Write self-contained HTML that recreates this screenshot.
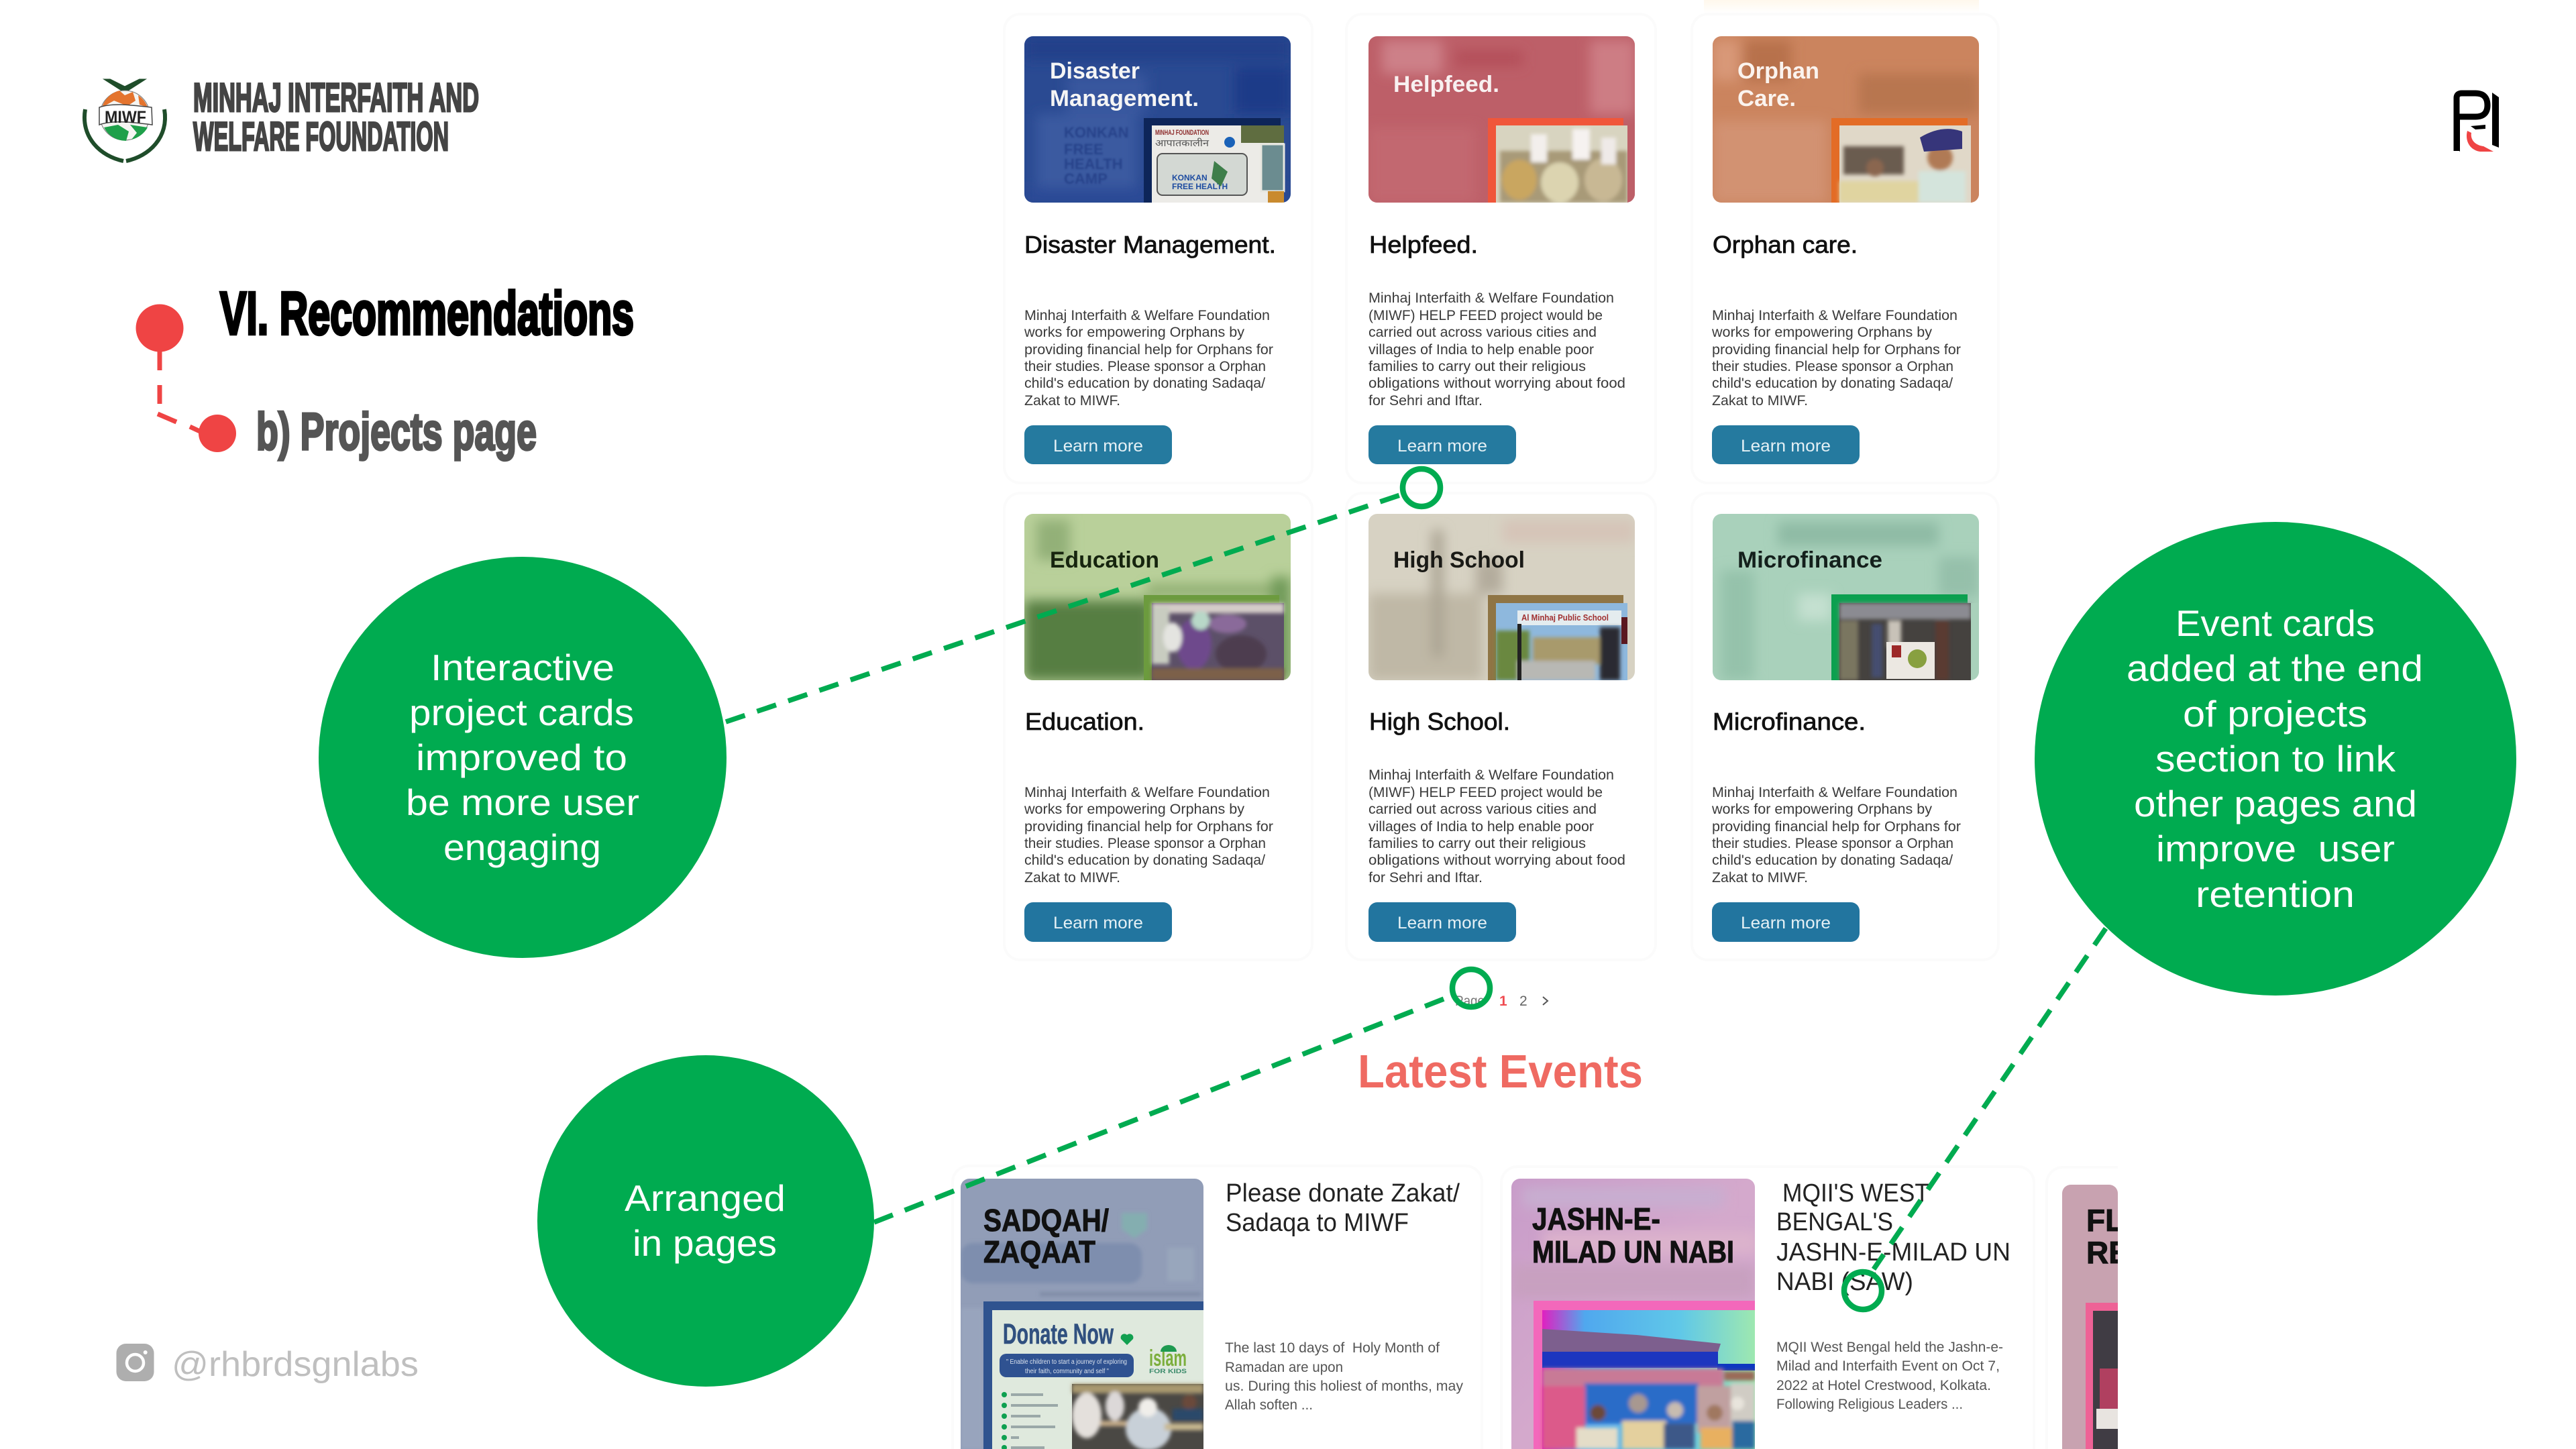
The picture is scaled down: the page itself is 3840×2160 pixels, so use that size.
<!DOCTYPE html>
<html lang="en">
<head>
<meta charset="utf-8">
<title>VI. Recommendations - b) Projects page</title>
<style>
html,body{margin:0;padding:0;background:#fff;width:3840px;height:2160px;overflow:hidden}
svg{display:block;position:absolute;left:0;top:0}
text{font-family:"Liberation Sans",sans-serif}
.h{font-weight:bold;fill:#444;font-size:60px;stroke:#444;stroke-width:3px}
.tt{font-size:36px;fill:#111;font-weight:normal;stroke:#111;stroke-width:.8px}
.b{font-size:21.5px;fill:#3a3a3a}
.lm{font-size:25px;fill:#e4f0f5}
.im{font-size:34px;font-weight:bold}
.w{font-size:55px;fill:#fff;text-anchor:start}
.et{font-size:38px;fill:#222}
.eb{font-size:21px;fill:#555}
.ei{font-size:46px;font-weight:bold;fill:#111;stroke:#111;stroke-width:1px}
.card{fill:#fff;stroke:#fbfbfb;stroke-width:4}
.dash{stroke:#00ab50;stroke-width:7.5;fill:none;stroke-dasharray:30 19}
.ring{fill:none;stroke:#00ab50;stroke-width:8.5}
</style>
</head>
<body>
<svg width="3840" height="2160" viewBox="0 0 3840 2160" xmlns="http://www.w3.org/2000/svg">
<defs>
<filter id="bl" x="-10%" y="-10%" width="120%" height="120%"><feGaussianBlur stdDeviation="9"/></filter>
<filter id="bs" x="-10%" y="-10%" width="120%" height="120%"><feGaussianBlur stdDeviation="3"/></filter>
<filter id="bt" x="-5%" y="-5%" width="110%" height="110%"><feGaussianBlur stdDeviation="1.200"/></filter>
<clipPath id="c11"><rect x="1527" y="54" width="397" height="248" rx="13"/></clipPath>
<clipPath id="c12"><rect x="2040" y="54" width="397" height="248" rx="13"/></clipPath>
<clipPath id="c13"><rect x="2553" y="54" width="397" height="248" rx="13"/></clipPath>
<clipPath id="c21"><rect x="1527" y="766" width="397" height="248" rx="13"/></clipPath>
<clipPath id="c22"><rect x="2040" y="766" width="397" height="248" rx="13"/></clipPath>
<clipPath id="c23"><rect x="2553" y="766" width="397" height="248" rx="13"/></clipPath>
<clipPath id="e1"><rect x="1432" y="1757" width="362" height="420" rx="13"/></clipPath>
<clipPath id="e2"><rect x="2253" y="1757" width="363" height="420" rx="13"/></clipPath>
<clipPath id="e3"><rect x="3074" y="1766" width="83" height="420" rx="13"/></clipPath>
<linearGradient id="topg" x1="0" y1="0" x2="0" y2="1"><stop offset="0" stop-color="#fff8ec"/><stop offset="1" stop-color="#fff"/></linearGradient>
<linearGradient id="pk" x1="0" y1="0" x2="1" y2="1"><stop offset="0" stop-color="#c89cc9"/><stop offset=".5" stop-color="#d4a9cc"/><stop offset="1" stop-color="#cfa6cf"/></linearGradient>
<linearGradient id="sky" x1="0" y1="0" x2="1" y2="0"><stop offset="0" stop-color="#e020c0"/><stop offset=".2" stop-color="#50a8ee"/><stop offset=".65" stop-color="#60c8e8"/><stop offset="1" stop-color="#9ee8b0"/></linearGradient>
</defs>

<rect width="3840" height="2160" fill="#fff"/>
<rect x="2540" y="0" width="410" height="20" fill="url(#topg)"/>

<!-- Header -->
<g>
<path d="M158 119 L186 137 L214 119 L208 119 L186 130 L164 119Z" fill="#1f4d2a" stroke="#1f4d2a" stroke-width="3"/>
<circle cx="186" cy="172" r="37" fill="#f5f5f2" stroke="#777" stroke-width="1"/>
<path d="M152 160 A37 37 0 0 1 178 135 L186 142 L198 137 L202 150 L190 158 L170 150Z" fill="#e4742e"/>
<path d="M206 142 A37 37 0 0 1 220 160 L208 156Z" fill="#e4742e"/>
<path d="M155 190 L176 186 L192 196 L188 210 A37 37 0 0 1 155 190Z" fill="#1fa04a"/>
<path d="M194 186 L220 190 A37 37 0 0 1 196 208 L204 198Z" fill="#1fa04a"/>
<path d="M148 160 C170 152 205 158 226 160 L227 186 C205 183 170 178 148 186Z" fill="#fff" stroke="#444" stroke-width="1.5"/>
<text x="156" y="183" font-size="25" font-weight="bold" fill="#222" textLength="62" lengthAdjust="spacingAndGlyphs">MIWF</text>
<path d="M127 163 C120 205 150 233 184 240" fill="none" stroke="#1f4d2a" stroke-width="6"/>
<path d="M245 163 C252 205 222 233 188 240" fill="none" stroke="#1f4d2a" stroke-width="6"/>
<text class="h" x="288" y="166" textLength="426" lengthAdjust="spacingAndGlyphs">MINHAJ INTERFAITH AND</text>
<text class="h" x="288" y="224" textLength="381" lengthAdjust="spacingAndGlyphs">WELFARE FOUNDATION</text>
</g>

<!-- Logo top right -->
<g>
<path d="M3662 225 L3662 146 Q3662 139 3670 139 L3690 139 Q3708 139 3708 157 Q3708 174 3690 174 L3664 174" fill="none" stroke="#000" stroke-width="9"/>
<path d="M3658 176 L3667 176 L3667 226 L3658 218Z" fill="#000"/>
<path d="M3715 138 L3725 145 L3725 220 L3715 216Z" fill="#000"/>
<path d="M3683 188 L3705 186 L3705 192 L3690 193Z" fill="#000"/>
<path d="M3678 195 L3684 198 C3682 210 3692 217 3702 218 L3717 226 L3697 226 C3682 224 3674 210 3678 195Z" fill="#ef4444"/>
</g>

<!-- Section heads -->
<circle cx="238" cy="489" r="35.5" fill="#ef4444"/>
<circle cx="324" cy="646" r="28" fill="#ef4444"/>
<g stroke="#ef4444" stroke-width="7" fill="none">
<path d="M238 524V552"/><path d="M238 574V602"/>
<path d="M235 617L263 629"/><path d="M283 636L300 644"/>
</g>
<text x="328" y="498" font-size="90" font-weight="bold" fill="#000" stroke="#000" stroke-width="4.500" textLength="617" lengthAdjust="spacingAndGlyphs">VI. Recommendations</text>
<text x="382" y="670" font-size="78" font-weight="bold" fill="#555" stroke="#555" stroke-width="3.500" textLength="418" lengthAdjust="spacingAndGlyphs">b) Projects page</text>

<!-- Project cards bg -->
<rect class="card" x="1497" y="21" width="459" height="699" rx="24"/>
<rect class="card" x="2007" y="21" width="461" height="699" rx="24"/>
<rect class="card" x="2522" y="21" width="457" height="699" rx="24"/>
<rect class="card" x="1497" y="735" width="459" height="696" rx="24"/>
<rect class="card" x="2007" y="735" width="461" height="696" rx="24"/>
<rect class="card" x="2522" y="735" width="457" height="696" rx="24"/>

<!-- Image 1,1 Disaster -->
<g clip-path="url(#c11)">
<rect x="1527" y="54" width="397" height="248" fill="#2a4a92"/>
<g filter="url(#bl)">
<rect x="1527" y="54" width="397" height="36" fill="#233f8a"/>
<rect x="1545" y="170" width="150" height="120" fill="#3a5aa0"/>
<rect x="1590" y="110" width="120" height="60" fill="#38569e"/>
<rect x="1840" y="100" width="84" height="70" fill="#1f3b88"/>
<rect x="1527" y="280" width="397" height="22" fill="#2c4a96"/>
</g>
<g filter="url(#bt)">
<text x="1586" y="205" font-size="22" font-weight="bold" fill="#27428a">KONKAN</text>
<text x="1586" y="230" font-size="22" font-weight="bold" fill="#27428a">FREE</text>
<text x="1586" y="252" font-size="22" font-weight="bold" fill="#27428a">HEALTH</text>
<text x="1586" y="274" font-size="22" font-weight="bold" fill="#27428a">CAMP</text>
</g>
<rect x="1705" y="176" width="204" height="126" fill="#0d2559"/>
<rect x="1717" y="187" width="197" height="115" fill="#ecebe7"/>
<rect x="1850" y="187" width="64" height="26" fill="#5f6d40" />
<rect x="1725" y="229" width="134" height="62" rx="8" fill="#d3d8d3" stroke="#555" stroke-width="2"/>
<rect x="1880" y="215" width="34" height="70" fill="#6b8c90" stroke="#e6e6df" stroke-width="3"/>
<rect x="1890" y="285" width="24" height="17" fill="#c98a2e"/>
<text x="1722" y="201" font-size="11" font-weight="bold" fill="#8c2a2a" textLength="80" lengthAdjust="spacingAndGlyphs">MINHAJ FOUNDATION</text>
<text x="1722" y="218" font-size="14" fill="#555" textLength="80" lengthAdjust="spacingAndGlyphs">आपातकालीन</text>
<text x="1747" y="269" font-size="12" font-weight="bold" fill="#1e4ca0">KONKAN</text>
<text x="1747" y="282" font-size="12" font-weight="bold" fill="#1e4ca0">FREE HEALTH</text>
<circle cx="1833" cy="212" r="8" fill="#1a62b8"/>
<path d="M1810 240l20 16-10 22-14-12z" fill="#3e7e4a"/>
</g>
<text class="im" x="1565" y="117" fill="#f5f5f5" textLength="134" lengthAdjust="spacingAndGlyphs">Disaster</text>
<text class="im" x="1565" y="158" fill="#f5f5f5" textLength="222" lengthAdjust="spacingAndGlyphs">Management.</text>

<!-- Image 1,2 Helpfeed -->
<g clip-path="url(#c12)">
<rect x="2040" y="54" width="397" height="248" fill="#bd5f68"/>
<g filter="url(#bl)">
<rect x="2060" y="60" width="90" height="50" fill="#cd8088"/>
<rect x="2370" y="60" width="67" height="110" fill="#cd7d84"/>
<rect x="2040" y="190" width="160" height="112" fill="#c26870"/>
<rect x="2170" y="75" width="100" height="24" fill="#b4505a"/>
</g>
<rect x="2218" y="176" width="202" height="126" fill="#f0563a"/>
<rect x="2230" y="187" width="196" height="115" fill="#d8d4c0"/>
<g filter="url(#bs)">
<rect x="2236" y="225" width="190" height="77" fill="#a89a78"/>
<ellipse cx="2265" cy="268" rx="26" ry="30" fill="#c9a660"/>
<ellipse cx="2325" cy="272" rx="28" ry="30" fill="#dcd4b0"/>
<ellipse cx="2390" cy="268" rx="28" ry="32" fill="#c8b894"/>
<rect x="2282" y="200" width="24" height="42" fill="#f3efec"/>
<rect x="2344" y="192" width="26" height="46" fill="#f6f2f0"/>
<rect x="2387" y="205" width="22" height="40" fill="#efeae8"/>
</g>
<rect x="2426" y="187" width="11" height="115" fill="#bd5f68"/>
</g>
<text class="im" x="2077" y="137" fill="#f8f0f0" textLength="158" lengthAdjust="spacingAndGlyphs">Helpfeed.</text>

<!-- Image 1,3 Orphan -->
<g clip-path="url(#c13)">
<rect x="2553" y="54" width="397" height="248" fill="#cb845e"/>
<g filter="url(#bl)">
<rect x="2600" y="60" width="70" height="60" fill="#b7714c"/>
<rect x="2770" y="110" width="180" height="60" fill="#b87650"/>
<rect x="2553" y="180" width="170" height="122" fill="#d29272"/>
<rect x="2553" y="60" width="40" height="60" fill="#d89878"/>
</g>
<rect x="2730" y="176" width="203" height="126" fill="#e36c26"/>
<rect x="2742" y="187" width="196" height="115" fill="#e0d8c8"/>
<g filter="url(#bs)">
<rect x="2748" y="218" width="90" height="42" fill="#6a5c50"/>
<rect x="2742" y="270" width="130" height="32" fill="#e0d4a0"/>
<circle cx="2795" cy="250" r="13" fill="#8a6650"/>
<rect x="2860" y="255" width="70" height="47" fill="#d4e4dc"/>
<circle cx="2892" cy="235" r="19" fill="#b07a55"/>
</g>
<path d="M2862 205 Q2895 185 2925 196 L2925 222 L2868 226Z" fill="#36357a"/>
<rect x="2938" y="187" width="12" height="115" fill="#cb845e"/>
</g>
<text class="im" x="2590" y="117" fill="#fbf3ee" textLength="122" lengthAdjust="spacingAndGlyphs">Orphan</text>
<text class="im" x="2590" y="158" fill="#fbf3ee" textLength="87" lengthAdjust="spacingAndGlyphs">Care.</text>

<!-- Image 2,1 Education -->
<g clip-path="url(#c21)">
<rect x="1527" y="766" width="397" height="248" fill="#b9d09a"/>
<g filter="url(#bl)">
<rect x="1527" y="895" width="190" height="119" fill="#567e42"/>
<rect x="1545" y="775" width="50" height="60" fill="#93b078"/>
<rect x="1710" y="872" width="214" height="16" fill="#8aa96c"/>
<rect x="1895" y="860" width="29" height="154" fill="#6f9a58"/>
</g>
<rect x="1705" y="887" width="202" height="127" fill="#6c9b3e"/>
<rect x="1717" y="899" width="197" height="115" fill="#5c5068"/>
<g filter="url(#bs)">
<rect x="1717" y="899" width="197" height="15" fill="#d4ccc8"/>
<rect x="1717" y="905" width="26" height="85" fill="#c8ccc0"/>
<ellipse cx="1780" cy="960" rx="26" ry="38" fill="#6e4a8c"/>
<ellipse cx="1850" cy="975" rx="38" ry="28" fill="#4e3c50"/>
<rect x="1717" y="996" width="197" height="18" fill="#7c6048"/>
<ellipse cx="1748" cy="950" rx="14" ry="22" fill="#e4e4e0"/>
<ellipse cx="1790" cy="925" rx="14" ry="14" fill="#b8d8c8"/>
<ellipse cx="1830" cy="930" rx="28" ry="14" fill="#8a6a9a"/>
</g>
</g>
<text class="im" x="1565" y="846" fill="#16240e" textLength="163" lengthAdjust="spacingAndGlyphs">Education</text>

<!-- Image 2,2 High School -->
<g clip-path="url(#c22)">
<rect x="2040" y="766" width="397" height="248" fill="#d7d2c3"/>
<g filter="url(#bl)">
<rect x="2040" y="885" width="170" height="129" fill="#bfb8a6"/>
<rect x="2200" y="835" width="40" height="50" fill="#b3ac9c"/>
<rect x="2240" y="775" width="197" height="34" fill="#d6c4b8"/>
<rect x="2135" y="790" width="16" height="190" fill="#a9a291"/>
</g>
<rect x="2218" y="887" width="202" height="127" fill="#8f7545"/>
<rect x="2230" y="899" width="196" height="115" fill="#8eb8dd"/>
<rect x="2262" y="910" width="155" height="22" fill="#e4ecef"/>
<text x="2268" y="925" font-size="13" font-weight="bold" fill="#a03030" textLength="130" lengthAdjust="spacingAndGlyphs">Al Minhaj Public School</text>
<g filter="url(#bs)">
<rect x="2230" y="940" width="50" height="74" fill="#6a8840"/>
<rect x="2285" y="950" width="100" height="40" fill="#a89a6c"/>
<rect x="2385" y="935" width="30" height="79" fill="#2b2c30"/>
<rect x="2262" y="985" width="116" height="29" fill="#b8b8b4"/>
</g>
<rect x="2262" y="930" width="6" height="84" fill="#222"/>
<rect x="2417" y="920" width="9" height="40" fill="#5a1820"/>
</g>
<text class="im" x="2077" y="846" fill="#1a1a16" textLength="196" lengthAdjust="spacingAndGlyphs">High School</text>

<!-- Image 2,3 Microfinance -->
<g clip-path="url(#c23)">
<rect x="2553" y="766" width="397" height="248" fill="#a9d1bb"/>
<g filter="url(#bl)">
<rect x="2650" y="778" width="240" height="36" fill="#8fbba5"/>
<rect x="2565" y="850" width="50" height="164" fill="#95c2ab"/>
<rect x="2680" y="885" width="50" height="40" fill="#c4e0d0"/>
<rect x="2890" y="830" width="60" height="60" fill="#95c0aa"/>
</g>
<rect x="2730" y="886" width="203" height="128" fill="#0ba04f"/>
<rect x="2742" y="899" width="196" height="115" fill="#45423f"/>
<g filter="url(#bs)">
<rect x="2742" y="899" width="196" height="24" fill="#8b8b92"/>
<rect x="2742" y="925" width="28" height="89" fill="#7a7660"/>
<rect x="2790" y="930" width="16" height="80" fill="#444d70"/>
<rect x="2814" y="925" width="20" height="40" fill="#c8c2b8"/>
<rect x="2885" y="925" width="20" height="89" fill="#5a3a30"/>
</g>
<rect x="2812" y="957" width="72" height="55" fill="#ece8e2"/>
<circle cx="2858" cy="982" r="14" fill="#88a040"/>
<rect x="2820" y="962" width="14" height="18" fill="#9c2828"/>
<rect x="2938" y="899" width="12" height="115" fill="#a9d1bb"/>
</g>
<text class="im" x="2590" y="846" fill="#14201c" textLength="216" lengthAdjust="spacingAndGlyphs">Microfinance</text>

<!-- Row 1 titles -->
<text class="tt" x="1527" y="377" textLength="375" lengthAdjust="spacingAndGlyphs">Disaster Management.</text>
<text class="tt" x="2041" y="377" textLength="162" lengthAdjust="spacingAndGlyphs">Helpfeed.</text>
<text class="tt" x="2553" y="377" textLength="216" lengthAdjust="spacingAndGlyphs">Orphan care.</text>
<text class="tt" x="1528" y="1088" textLength="178" lengthAdjust="spacingAndGlyphs">Education.</text>
<text class="tt" x="2041" y="1088" textLength="210" lengthAdjust="spacingAndGlyphs">High School.</text>
<text class="tt" x="2553" y="1088" textLength="228" lengthAdjust="spacingAndGlyphs">Microfinance.</text>

<!-- Row 1 bodies -->
<g>
<text class="b" x="1527" y="477" textLength="366" lengthAdjust="spacingAndGlyphs">Minhaj Interfaith &amp; Welfare Foundation</text>
<text class="b" x="1527" y="502" textLength="328" lengthAdjust="spacingAndGlyphs">works for empowering Orphans by</text>
<text class="b" x="1527" y="528" textLength="371" lengthAdjust="spacingAndGlyphs">providing financial help for Orphans for</text>
<text class="b" x="1527" y="553" textLength="360" lengthAdjust="spacingAndGlyphs">their studies. Please sponsor a Orphan</text>
<text class="b" x="1527" y="578" textLength="359" lengthAdjust="spacingAndGlyphs">child's education by donating Sadaqa/</text>
<text class="b" x="1527" y="604" textLength="143" lengthAdjust="spacingAndGlyphs">Zakat to MIWF.</text>

<text class="b" x="2040" y="451" textLength="366" lengthAdjust="spacingAndGlyphs">Minhaj Interfaith &amp; Welfare Foundation</text>
<text class="b" x="2040" y="477" textLength="349" lengthAdjust="spacingAndGlyphs">(MIWF) HELP FEED project would be</text>
<text class="b" x="2040" y="502" textLength="340" lengthAdjust="spacingAndGlyphs">carried out across various cities and</text>
<text class="b" x="2040" y="528" textLength="336" lengthAdjust="spacingAndGlyphs">villages of India to help enable poor</text>
<text class="b" x="2040" y="553" textLength="324" lengthAdjust="spacingAndGlyphs">families to carry out their religious</text>
<text class="b" x="2040" y="578" textLength="383" lengthAdjust="spacingAndGlyphs">obligations without worrying about food</text>
<text class="b" x="2040" y="604" textLength="170" lengthAdjust="spacingAndGlyphs">for Sehri and Iftar.</text>

<text class="b" x="2552" y="477" textLength="366" lengthAdjust="spacingAndGlyphs">Minhaj Interfaith &amp; Welfare Foundation</text>
<text class="b" x="2552" y="502" textLength="328" lengthAdjust="spacingAndGlyphs">works for empowering Orphans by</text>
<text class="b" x="2552" y="528" textLength="371" lengthAdjust="spacingAndGlyphs">providing financial help for Orphans for</text>
<text class="b" x="2552" y="553" textLength="360" lengthAdjust="spacingAndGlyphs">their studies. Please sponsor a Orphan</text>
<text class="b" x="2552" y="578" textLength="359" lengthAdjust="spacingAndGlyphs">child's education by donating Sadaqa/</text>
<text class="b" x="2552" y="604" textLength="143" lengthAdjust="spacingAndGlyphs">Zakat to MIWF.</text>
</g>
<!-- Row 2 bodies -->
<g>
<text class="b" x="1527" y="1188" textLength="366" lengthAdjust="spacingAndGlyphs">Minhaj Interfaith &amp; Welfare Foundation</text>
<text class="b" x="1527" y="1213" textLength="328" lengthAdjust="spacingAndGlyphs">works for empowering Orphans by</text>
<text class="b" x="1527" y="1239" textLength="371" lengthAdjust="spacingAndGlyphs">providing financial help for Orphans for</text>
<text class="b" x="1527" y="1264" textLength="360" lengthAdjust="spacingAndGlyphs">their studies. Please sponsor a Orphan</text>
<text class="b" x="1527" y="1289" textLength="359" lengthAdjust="spacingAndGlyphs">child's education by donating Sadaqa/</text>
<text class="b" x="1527" y="1315" textLength="143" lengthAdjust="spacingAndGlyphs">Zakat to MIWF.</text>

<text class="b" x="2040" y="1162" textLength="366" lengthAdjust="spacingAndGlyphs">Minhaj Interfaith &amp; Welfare Foundation</text>
<text class="b" x="2040" y="1188" textLength="349" lengthAdjust="spacingAndGlyphs">(MIWF) HELP FEED project would be</text>
<text class="b" x="2040" y="1213" textLength="340" lengthAdjust="spacingAndGlyphs">carried out across various cities and</text>
<text class="b" x="2040" y="1239" textLength="336" lengthAdjust="spacingAndGlyphs">villages of India to help enable poor</text>
<text class="b" x="2040" y="1264" textLength="324" lengthAdjust="spacingAndGlyphs">families to carry out their religious</text>
<text class="b" x="2040" y="1289" textLength="383" lengthAdjust="spacingAndGlyphs">obligations without worrying about food</text>
<text class="b" x="2040" y="1315" textLength="170" lengthAdjust="spacingAndGlyphs">for Sehri and Iftar.</text>

<text class="b" x="2552" y="1188" textLength="366" lengthAdjust="spacingAndGlyphs">Minhaj Interfaith &amp; Welfare Foundation</text>
<text class="b" x="2552" y="1213" textLength="328" lengthAdjust="spacingAndGlyphs">works for empowering Orphans by</text>
<text class="b" x="2552" y="1239" textLength="371" lengthAdjust="spacingAndGlyphs">providing financial help for Orphans for</text>
<text class="b" x="2552" y="1264" textLength="360" lengthAdjust="spacingAndGlyphs">their studies. Please sponsor a Orphan</text>
<text class="b" x="2552" y="1289" textLength="359" lengthAdjust="spacingAndGlyphs">child's education by donating Sadaqa/</text>
<text class="b" x="2552" y="1315" textLength="143" lengthAdjust="spacingAndGlyphs">Zakat to MIWF.</text>
</g>

<!-- Buttons -->
<g fill="#257a9f">
<rect x="1527" y="634" width="220" height="58" rx="13"/>
<rect x="2040" y="634" width="220" height="58" rx="13"/>
<rect x="2552" y="634" width="220" height="58" rx="13"/>
<rect x="1527" y="1345" width="220" height="59" rx="13" fill="#22759f"/>
<rect x="2040" y="1345" width="220" height="59" rx="13" fill="#22759f"/>
<rect x="2552" y="1345" width="220" height="59" rx="13" fill="#22759f"/>
</g>
<text class="lm" x="1570" y="673" textLength="134" lengthAdjust="spacingAndGlyphs">Learn more</text>
<text class="lm" x="2083" y="673" textLength="134" lengthAdjust="spacingAndGlyphs">Learn more</text>
<text class="lm" x="2595" y="673" textLength="134" lengthAdjust="spacingAndGlyphs">Learn more</text>
<text class="lm" x="1570" y="1384" textLength="134" lengthAdjust="spacingAndGlyphs">Learn more</text>
<text class="lm" x="2083" y="1384" textLength="134" lengthAdjust="spacingAndGlyphs">Learn more</text>
<text class="lm" x="2595" y="1384" textLength="134" lengthAdjust="spacingAndGlyphs">Learn more</text>

<!-- Pagination -->
<text x="2169" y="1499" font-size="21" fill="#777" textLength="44" lengthAdjust="spacingAndGlyphs">Page</text>
<text x="2235" y="1499" font-size="21" font-weight="bold" fill="#ef4a50">1</text>
<text x="2265" y="1499" font-size="21" fill="#666">2</text>
<path d="M2300 1486l7 6-7 6" fill="none" stroke="#555" stroke-width="2"/>

<!-- Latest Events -->
<text x="2024" y="1621" font-size="70" font-weight="bold" fill="#ef6a62" textLength="425" lengthAdjust="spacingAndGlyphs">Latest Events</text>

<!-- Event cards -->
<g>
<path d="M1420 2160V1762a24 24 0 0 1 24-24H2185a24 24 0 0 1 24 24V2160" class="card"/>
<path d="M2238 2160V1763a24 24 0 0 1 24-24H3008a24 24 0 0 1 24 24V2160" class="card"/>
<path d="M3157 1740H3075a24 24 0 0 0 -24 24V2160" class="card"/>
</g>

<!-- Event 1 image -->
<g clip-path="url(#e1)">
<rect x="1432" y="1757" width="362" height="403" fill="#919db7"/>
<g filter="url(#bs)">
<rect x="1432" y="1853" width="270" height="60" rx="18" fill="#7e8eae"/>
<path d="M1672 1808h38v24l-19 14-19-14z" fill="#84aeb0"/>
<rect x="1740" y="1860" width="40" height="50" fill="#98a6bc"/>
<rect x="1432" y="1950" width="34" height="210" fill="#98a4bd"/>
<rect x="1550" y="1926" width="240" height="6" fill="#7f8ba6"/>
</g>
<rect x="1466" y="1940" width="328" height="220" fill="#2f538f"/>
<rect x="1479" y="1953" width="315" height="207" fill="#dfe9dd"/>
<text x="1495" y="2003" font-size="43" font-weight="bold" fill="#30507f" stroke="#30507f" stroke-width=".6" textLength="165" lengthAdjust="spacingAndGlyphs">Donate Now</text>
<path d="M1680 2005l-9-9a5.500 5.500 0 0 1 9-6 5.500 5.500 0 0 1 9 6z" fill="#12a050"/>
<rect x="1490" y="2018" width="200" height="35" rx="10" fill="#2f5291"/>
<text x="1500" y="2033" font-size="10" fill="#d8e0ec" textLength="180" lengthAdjust="spacingAndGlyphs">" Enable children to start a journey of exploring</text>
<text x="1528" y="2047" font-size="10" fill="#d8e0ec" textLength="125" lengthAdjust="spacingAndGlyphs">their faith, community and self "</text>
<text x="1713" y="2036" font-size="34" font-weight="bold" fill="#7cae3c" textLength="56" lengthAdjust="spacingAndGlyphs">islam</text>
<text x="1713" y="2047" font-size="9" font-weight="bold" fill="#3a8a6a" textLength="56" lengthAdjust="spacingAndGlyphs">FOR KIDS</text>
<path d="M1730 2015a12 10 0 0 1 24 0z" fill="#1e9a50"/>
<g fill="#0ea050">
<circle cx="1497" cy="2079" r="4"/><circle cx="1497" cy="2095" r="4"/><circle cx="1497" cy="2111" r="4"/><circle cx="1497" cy="2127" r="4"/><circle cx="1497" cy="2143" r="4"/><circle cx="1497" cy="2158" r="4"/>
</g>
<g fill="#9aa8a8">
<rect x="1507" y="2077" width="48" height="4"/><rect x="1507" y="2093" width="70" height="4"/><rect x="1507" y="2109" width="44" height="4"/><rect x="1507" y="2125" width="66" height="4"/><rect x="1507" y="2141" width="12" height="4"/><rect x="1507" y="2156" width="50" height="4"/>
</g>
<rect x="1598" y="2063" width="196" height="97" fill="#4a4844"/>
<g filter="url(#bs)">
<rect x="1598" y="2063" width="196" height="14" fill="#a89870"/>
<ellipse cx="1620" cy="2110" rx="22" ry="34" fill="#e4e0dc"/>
<ellipse cx="1662" cy="2096" rx="14" ry="22" fill="#dcd8d8"/>
<ellipse cx="1712" cy="2130" rx="34" ry="32" fill="#c8d0d8"/>
<circle cx="1711" cy="2098" r="14" fill="#f0eeea"/>
<rect x="1640" y="2118" width="40" height="8" fill="#c4ab88"/>
<rect x="1736" y="2122" width="58" height="10" fill="#c8b890"/>
<circle cx="1773" cy="2090" r="11" fill="#6a4a3a"/>
<rect x="1748" y="2100" width="46" height="18" fill="#2a4a6a"/>
</g>
</g>
<text class="ei" x="1466" y="1835" textLength="187" lengthAdjust="spacingAndGlyphs">SADQAH/</text>
<text class="ei" x="1466" y="1882" textLength="167" lengthAdjust="spacingAndGlyphs">ZAQAAT</text>

<text class="et" x="1827" y="1791" textLength="349" lengthAdjust="spacingAndGlyphs">Please donate Zakat/</text>
<text class="et" x="1827" y="1835" textLength="273" lengthAdjust="spacingAndGlyphs">Sadaqa to MIWF</text>
<text class="eb" x="1826" y="2016" textLength="320" lengthAdjust="spacingAndGlyphs" xml:space="preserve">The last 10 days of  Holy Month of</text>
<text class="eb" x="1826" y="2045" textLength="176" lengthAdjust="spacingAndGlyphs">Ramadan are upon</text>
<text class="eb" x="1826" y="2073" textLength="355" lengthAdjust="spacingAndGlyphs">us. During this holiest of months, may</text>
<text class="eb" x="1826" y="2101" textLength="131" lengthAdjust="spacingAndGlyphs">Allah soften ...</text>

<!-- Event 2 image -->
<g clip-path="url(#e2)">
<rect x="2253" y="1757" width="363" height="403" fill="url(#pk)"/>
<g filter="url(#bl)">
<rect x="2300" y="1835" width="320" height="35" fill="#dcb2cc"/>
<rect x="2253" y="1885" width="363" height="50" fill="#c8a0c0"/>
<rect x="2270" y="1770" width="300" height="30" fill="#c8aed0"/>
</g>
<rect x="2286" y="1939" width="330" height="221" fill="#f368bb"/>
<rect x="2299" y="1953" width="317" height="207" fill="url(#sky)"/>
<path d="M2299 1981 L2440 1990 L2565 2003 L2560 2018 L2299 2018Z" fill="#7d5f8e"/>
<rect x="2299" y="2015" width="262" height="24" fill="#1d36bf"/>
<rect x="2560" y="2033" width="56" height="10" fill="#0e38c0"/>
<g filter="url(#bs)">
<rect x="2299" y="2040" width="270" height="26" fill="#c87a96"/>
<rect x="2570" y="2044" width="46" height="14" fill="#9a6a58"/>
<rect x="2362" y="2062" width="170" height="60" fill="#2a6cc8"/>
<rect x="2299" y="2066" width="64" height="94" fill="#dc5a8a"/>
<rect x="2530" y="2066" width="50" height="70" fill="#c0a0a0"/>
<rect x="2580" y="2062" width="36" height="70" fill="#d0ccc4"/>
<rect x="2350" y="2128" width="62" height="32" fill="#e4ddc8"/>
<circle cx="2382" cy="2106" r="12" fill="#6c4a38"/>
<rect x="2418" y="2118" width="66" height="42" fill="#e4d09e"/>
<circle cx="2442" cy="2092" r="14" fill="#a89890"/>
<rect x="2480" y="2122" width="46" height="38" fill="#3c5888"/>
<circle cx="2497" cy="2102" r="12" fill="#c8bcb0"/>
<rect x="2535" y="2128" width="60" height="32" fill="#e8b060"/>
<circle cx="2556" cy="2106" r="12" fill="#a07860"/>
<rect x="2582" y="2118" width="34" height="42" fill="#2a6aa0"/>
<circle cx="2590" cy="2092" r="10" fill="#e8e4dc"/>
</g>
</g>
<text class="ei" x="2284" y="1833" fill="#222" textLength="191" lengthAdjust="spacingAndGlyphs">JASHN-E-</text>
<text class="ei" x="2284" y="1882" fill="#222" textLength="301" lengthAdjust="spacingAndGlyphs">MILAD UN NABI</text>

<text class="et" x="2657" y="1791" textLength="219" lengthAdjust="spacingAndGlyphs">MQII'S WEST</text>
<text class="et" x="2648" y="1834" textLength="174" lengthAdjust="spacingAndGlyphs">BENGAL'S</text>
<text class="et" x="2648" y="1879" textLength="349" lengthAdjust="spacingAndGlyphs">JASHN-E-MILAD UN</text>
<text class="et" x="2648" y="1923" textLength="204" lengthAdjust="spacingAndGlyphs">NABI (SAW)</text>
<text class="eb" x="2648" y="2015" textLength="338" lengthAdjust="spacingAndGlyphs">MQII West Bengal held the Jashn-e-</text>
<text class="eb" x="2648" y="2043" textLength="333" lengthAdjust="spacingAndGlyphs">Milad and Interfaith Event on Oct 7,</text>
<text class="eb" x="2648" y="2072" textLength="320" lengthAdjust="spacingAndGlyphs">2022 at Hotel Crestwood, Kolkata.</text>
<text class="eb" x="2648" y="2100" textLength="278" lengthAdjust="spacingAndGlyphs">Following Religious Leaders ...</text>

<!-- Event 3 image clipped -->
<g clip-path="url(#e3)">
<rect x="3074" y="1766" width="83" height="394" fill="#c8a2b0"/>
<rect x="3109" y="1942" width="48" height="218" fill="#ee6296"/>
<rect x="3120" y="1954" width="37" height="206" fill="#403c44"/>
<rect x="3130" y="2040" width="27" height="60" fill="#b04060"/>
<rect x="3125" y="2100" width="32" height="30" fill="#e8e4e0"/>
<text class="ei" x="3110" y="1835" fill="#2a1e24">FLOOD</text>
<text class="ei" x="3110" y="1883" fill="#2a1e24">RELIEF</text>
</g>

<!-- Connectors -->
<line class="dash" x1="1082" y1="1076" x2="2090" y2="737"/>
<line class="dash" x1="1303" y1="1822" x2="2160" y2="1486"/>
<line class="dash" x1="3139" y1="1384" x2="2793" y2="1892"/>

<circle class="ring" cx="2119" cy="727" r="28"/>
<circle class="ring" cx="2193" cy="1473" r="28"/>
<circle class="ring" cx="2777" cy="1924" r="28"/>

<!-- Green callouts -->
<ellipse cx="779" cy="1129" rx="304" ry="299" fill="#00ab50"/>
<text class="w" x="642" y="1014" textLength="274" lengthAdjust="spacingAndGlyphs">Interactive</text>
<text class="w" x="610" y="1081" textLength="335" lengthAdjust="spacingAndGlyphs">project cards</text>
<text class="w" x="620" y="1148" textLength="315" lengthAdjust="spacingAndGlyphs">improved to</text>
<text class="w" x="605" y="1215" textLength="348" lengthAdjust="spacingAndGlyphs">be more user</text>
<text class="w" x="661" y="1282" textLength="235" lengthAdjust="spacingAndGlyphs">engaging</text>

<ellipse cx="1052" cy="1820" rx="251" ry="247" fill="#00ab50"/>
<text class="w" x="931" y="1805" textLength="240" lengthAdjust="spacingAndGlyphs">Arranged</text>
<text class="w" x="943" y="1872" textLength="215" lengthAdjust="spacingAndGlyphs">in pages</text>

<ellipse cx="3392" cy="1131" rx="359" ry="353" fill="#00ab50"/>
<text class="w" x="3243" y="948" textLength="297" lengthAdjust="spacingAndGlyphs">Event cards</text>
<text class="w" x="3170" y="1015" textLength="442" lengthAdjust="spacingAndGlyphs">added at the end</text>
<text class="w" x="3254" y="1083" textLength="275" lengthAdjust="spacingAndGlyphs">of projects</text>
<text class="w" x="3213" y="1150" textLength="358" lengthAdjust="spacingAndGlyphs">section to link</text>
<text class="w" x="3181" y="1217" textLength="422" lengthAdjust="spacingAndGlyphs">other pages and</text>
<text class="w" x="3214" y="1284" textLength="356" lengthAdjust="spacingAndGlyphs" xml:space="preserve">improve  user</text>
<text class="w" x="3273" y="1352" textLength="237" lengthAdjust="spacingAndGlyphs">retention</text>

<!-- Instagram -->
<rect x="173.500" y="2003" width="56" height="56" rx="14" fill="#aeaeae"/>
<circle cx="201.500" cy="2031.500" r="12.500" fill="#aeaeae" stroke="#fff" stroke-width="4.500"/>
<circle cx="216.700" cy="2016" r="3" fill="#fff"/>
<text x="256" y="2051" font-size="52" fill="#bfbfbf" textLength="368" lengthAdjust="spacingAndGlyphs">@rhbrdsgnlabs</text>
</svg>
</body>
</html>
